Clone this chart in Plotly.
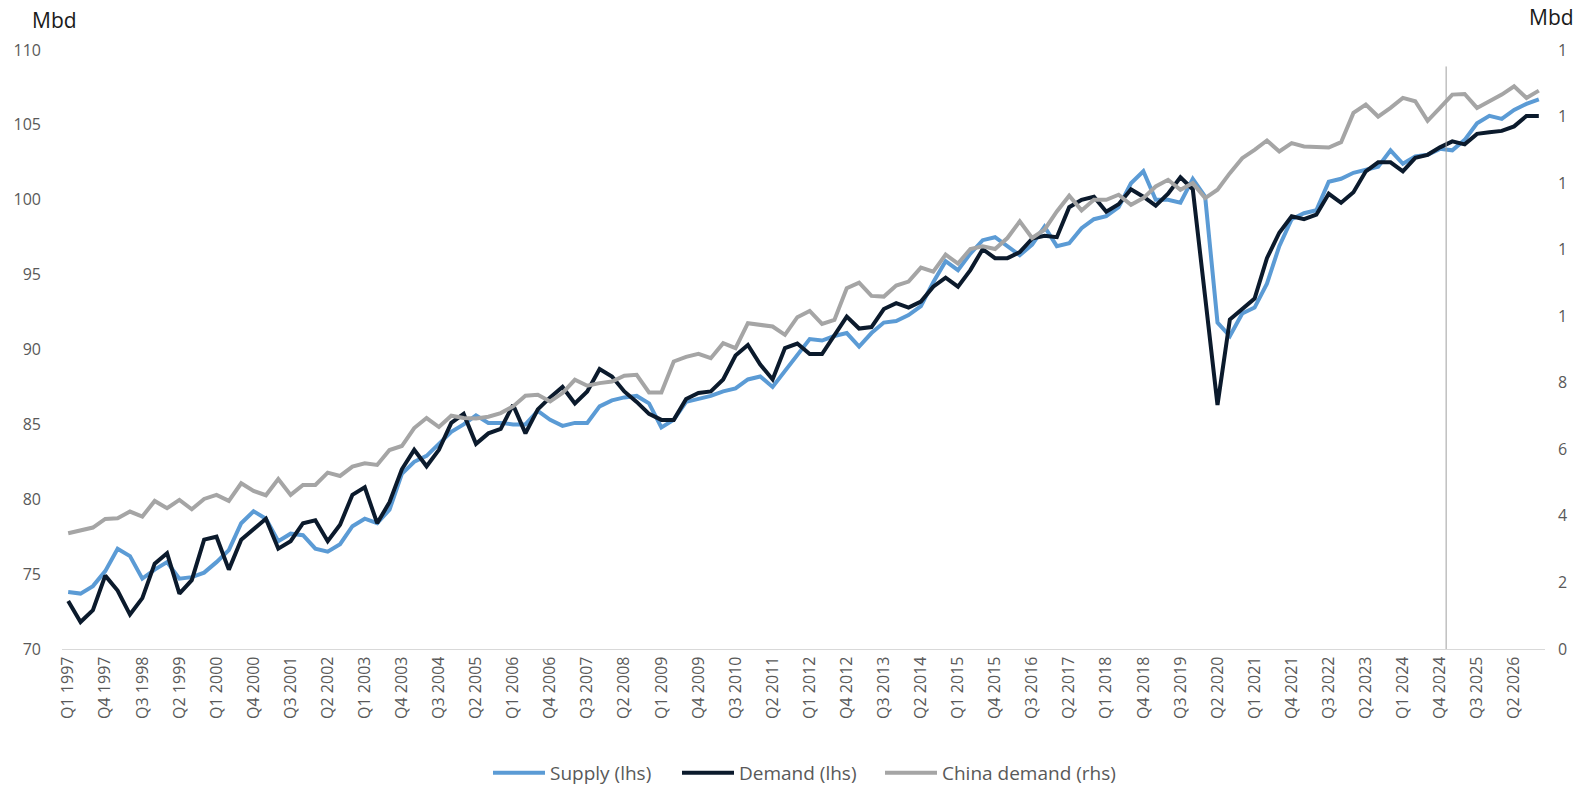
import plotly.graph_objects as go

# ---- data -------------------------------------------------------------
years = list(range(1997, 2027))
quarters = [f"Q{q} {y}" for y in years for q in (1, 2, 3, 4)]

supply = [
    73.8, 73.7, 74.2, 75.2, 76.7, 76.2, 74.7, 75.3, 75.8, 74.7,
    74.8, 75.1, 75.8, 76.6, 78.4, 79.2, 78.7, 77.2, 77.7, 77.6,
    76.7, 76.5, 77.0, 78.2, 78.7, 78.4, 79.3, 81.7, 82.5, 82.9,
    83.7, 84.5, 85.0, 85.6, 85.1, 85.1, 85.0, 85.0, 85.9, 85.3,
    84.9, 85.1, 85.1, 86.2, 86.6, 86.8, 86.9, 86.4, 84.8, 85.3,
    86.5, 86.7, 86.9, 87.2, 87.4, 88.0, 88.2, 87.5, 88.6, 89.6,
    90.7, 90.6, 90.9, 91.1, 90.2, 91.1, 91.8, 91.9, 92.3, 92.9,
    94.5, 95.9, 95.3, 96.4, 97.3, 97.5, 96.9, 96.3, 97.0, 98.2,
    96.9, 97.1, 98.1, 98.7, 98.9, 99.5, 101.1, 101.9, 100.0, 100.0,
    99.8, 101.4, 100.2, 91.8, 90.9, 92.4, 92.8, 94.4, 96.9, 98.7,
    99.1, 99.3, 101.2, 101.4, 101.8, 102.0, 102.2, 103.3, 102.4, 102.9,
    103.0, 103.4, 103.3, 104.0, 105.1, 105.6, 105.4, 106.0, 106.4, 106.7,
]

demand = [
    73.2, 71.8, 72.6, 74.9, 73.9, 72.3, 73.4, 75.7, 76.4, 73.7,
    74.6, 77.3, 77.5, 75.3, 77.3, 78.0, 78.7, 76.7, 77.2, 78.4,
    78.6, 77.2, 78.3, 80.3, 80.8, 78.4, 79.8, 82.0, 83.3, 82.2,
    83.3, 85.1, 85.7, 83.7, 84.4, 84.7, 86.3, 84.4, 86.0, 86.8,
    87.5, 86.4, 87.2, 88.7, 88.2, 87.2, 86.5, 85.7, 85.3, 85.3,
    86.7, 87.1, 87.2, 88.0, 89.6, 90.3, 89.0, 88.0, 90.1, 90.4,
    89.7, 89.7, 90.9, 92.2, 91.4, 91.5, 92.7, 93.1, 92.8, 93.2,
    94.2, 94.8, 94.2, 95.3, 96.7, 96.1, 96.1, 96.5, 97.4, 97.6,
    97.5, 99.5, 100.0, 100.2, 99.2, 99.7, 100.7, 100.2, 99.6, 100.4,
    101.5, 100.7, 93.5, 86.3, 92.0, 92.7, 93.4, 96.1, 97.8, 98.9,
    98.7, 99.0, 100.4, 99.8, 100.5, 101.9, 102.5, 102.5, 101.9, 102.8,
    103.0, 103.5, 103.9, 103.7, 104.4, 104.5, 104.6, 104.9, 105.6, 105.6,
]

china_demand = [
    3.48, 3.55, 3.65, 3.91, 3.93, 4.13, 3.98, 4.45, 4.23, 4.48,
    4.20, 4.51, 4.63, 4.45, 4.98, 4.75, 4.62, 5.11, 4.63, 4.93,
    4.93, 5.30, 5.20, 5.48, 5.58, 5.53, 5.98, 6.10, 6.64, 6.94,
    6.67, 7.01, 6.94, 6.93, 6.98, 7.09, 7.29, 7.61, 7.64, 7.44,
    7.69, 8.09, 7.91, 7.99, 8.04, 8.21, 8.24, 7.71, 7.71, 8.64,
    8.78, 8.87, 8.74, 9.19, 9.04, 9.79, 9.75, 9.69, 9.44, 9.97,
    10.16, 9.77, 9.89, 10.84, 11.01, 10.61, 10.59, 10.92, 11.04, 11.46,
    11.34, 11.85, 11.58, 12.02, 12.10, 12.02, 12.35, 12.85, 12.35, 12.60,
    13.15, 13.62, 13.18, 13.50, 13.50, 13.65, 13.35, 13.55, 13.90, 14.10,
    13.80, 14.00, 13.55, 13.80, 14.30, 14.75, 15.00, 15.28, 14.95, 15.20,
    15.10, 15.10, 15.07, 15.23, 16.11, 16.36, 16.00, 16.26, 16.56, 16.46,
    15.87, 16.26, 16.66, 16.68, 16.26, 16.46, 16.66, 16.91, 16.56, 16.78,
]

x_ticks = quarters[::3]
left_ticks = [70, 75, 80, 85, 90, 95, 100, 105, 110]
right_ticks = [0, 2, 4, 6, 8, 10, 12, 14, 16, 18]
right_ticktext = ["0", "2", "4", "6", "8", "1", "1", "1", "1", "1"]
forecast_after = "Q4 2024"

# ---- styles -----------------------------------------------------------
FONT = "Open Sans"
TICK_COLOR = "#595959"
C_SUPPLY = "#5b9bd5"
C_DEMAND = "#0b1a2c"
C_CHINA = "#a5a5a5"

fig = go.Figure()
fig.add_trace(go.Scatter(x=quarters, y=supply, name="Supply (lhs)", mode="lines",
                         line=dict(color=C_SUPPLY, width=4), legend="legend"))
fig.add_trace(go.Scatter(x=quarters, y=demand, name="Demand (lhs)", mode="lines",
                         line=dict(color=C_DEMAND, width=4), legend="legend2"))
fig.add_trace(go.Scatter(x=quarters, y=china_demand, name="China demand (rhs)", mode="lines",
                         line=dict(color=C_CHINA, width=4), yaxis="y2", legend="legend3"))

fc_x = quarters.index(forecast_after) + 0.5
fig.add_shape(type="line", xref="x", yref="y", x0=fc_x, x1=fc_x, y0=70, y1=108.9,
              line=dict(color="#a0a0a0", width=1), layer="above")


def legend_at(left_px):
    return dict(orientation="h", xref="container", x=left_px / 1578, xanchor="left",
                yref="container", y=0.0153, yanchor="middle",
                font=dict(family=FONT, size=19, color=TICK_COLOR),
                itemwidth=52, bgcolor="rgba(0,0,0,0)", borderwidth=0)


fig.update_layout(
    width=1578, height=785,
    margin=dict(l=62, r=33, t=50, b=136),
    paper_bgcolor="white", plot_bgcolor="white",
    font=dict(family=FONT, size=16, color=TICK_COLOR),
    showlegend=True,
    legend=legend_at(488),
    legend2=legend_at(677),
    legend3=legend_at(880),
    xaxis=dict(type="category", range=[-0.5, len(quarters) - 0.5], automargin=False,
               tickmode="array", tickvals=x_ticks, ticktext=x_ticks,
               tickangle=-90, showgrid=False, zeroline=False,
               showline=True, linecolor="#d9d9d9", linewidth=1.3, ticks="",
               tickfont=dict(family=FONT, size=16, color=TICK_COLOR)),
    yaxis=dict(range=[70, 110], tickmode="array", tickvals=left_ticks, automargin=False,
               showgrid=False, zeroline=False, showline=False, ticks="",
               ticklabelstandoff=20,
               tickfont=dict(family=FONT, size=16, color=TICK_COLOR)),
    yaxis2=dict(range=[0, 18], overlaying="y", side="right", tickmode="array", automargin=False,
                tickvals=right_ticks, ticktext=right_ticktext,
                showgrid=False, zeroline=False, showline=False, ticks="",
                ticklabelstandoff=12,
                tickfont=dict(family=FONT, size=16, color=TICK_COLOR)),
    annotations=[
        dict(text="Mbd", xref="paper", yref="paper", x=-0.0214, y=1.05,
             xanchor="left", yanchor="middle", showarrow=False,
             font=dict(family=FONT, size=21, color="#1a1a1a")),
        dict(text="Mbd", xref="paper", yref="paper", x=0.9877, y=1.055,
             xanchor="left", yanchor="middle", showarrow=False,
             font=dict(family=FONT, size=21, color="#1a1a1a")),
    ],
)

fig.write_html("out.html")
